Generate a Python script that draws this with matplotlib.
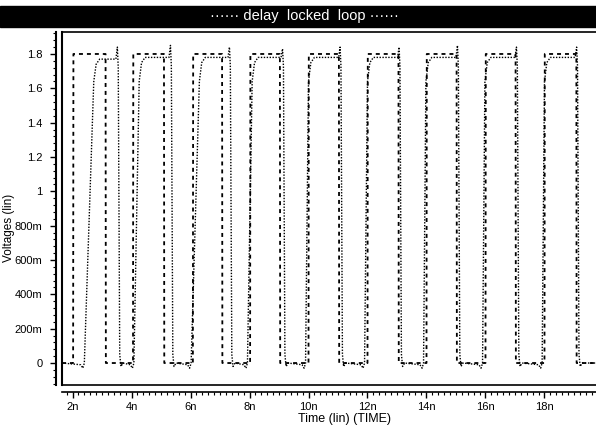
import numpy as np
import matplotlib
matplotlib.use('Agg')
import matplotlib.pyplot as plt
from matplotlib.patches import Rectangle
from matplotlib.ticker import MultipleLocator

plt.rcParams['font.family'] = ['Liberation Sans', 'DejaVu Sans']

# reference clock edges (ns), ideal square wave
ref_rise = [2.02, 4.05, 6.08, 8.02, 10.0, 12.0, 14.0, 16.0, 18.0]
ref_fall = [3.12, 5.10, 7.07, 9.03, 11.03, 13.05, 15.02, 17.02, 19.08]
ref_high = 1.8

# delayed clock out of the DLL: rise start, ramp time, fall
dll_rise = [2.40, 4.08, 6.02, 7.93, 9.90, 11.90, 13.90, 15.90, 17.92]
dll_ramp = [0.32, 0.18, 0.28, 0.16, 0.10, 0.10, 0.08, 0.08, 0.08]
dll_fall = [3.55, 5.35, 7.35, 9.15, 11.10, 13.10, 15.08, 17.08, 19.12]
dll_high = [1.77, 1.78, 1.78, 1.78, 1.78, 1.78, 1.78, 1.78, 1.78]
dll_peak = [1.84, 1.85, 1.84, 1.83, 1.84, 1.84, 1.85, 1.84, 1.84]

yticks = [0, 0.2, 0.4, 0.6, 0.8, 1.0, 1.2, 1.4, 1.6, 1.8]
ylabels = ['0', '200m', '400m', '600m', '800m', '1', '1.2', '1.4', '1.6', '1.8']
xticks = [2, 4, 6, 8, 10, 12, 14, 16, 18]
xlabels = ['2n', '4n', '6n', '8n', '10n', '12n', '14n', '16n', '18n']

t0, t1 = 1.643, 19.95

# build reference waveform
rt, rv = [t0], [0.0]
for r, f in zip(ref_rise, ref_fall):
    rt += [r, r + 0.01, f, f + 0.01]
    rv += [0.0, ref_high, ref_high, 0.0]
rt.append(t1)
rv.append(0.0)

# build delayed waveform
dt, dv = [t0], [0.0]
for r, a, f, h, p in zip(dll_rise, dll_ramp, dll_fall, dll_high, dll_peak):
    dt += [r - 0.12, r - 0.05, r, r + a, r + a + 0.08, r + a + 0.2,
           f - 0.08, f - 0.03, f, f + 0.05, f + 0.09, f + 0.16]
    dv += [-0.01, -0.03, 0.0, 1.64, h - 0.03, h,
           h, p, h - 0.05, 0.05, -0.02, 0.0]
dt.append(t1)
dv.append(0.0)

fig = plt.figure(figsize=(5.96, 4.30), dpi=100)
fig.patch.set_facecolor('white')

# title bar
fig.patches.append(Rectangle((0.0, 1 - 27 / 430), 1.0, 21 / 430,
                             transform=fig.transFigure, color='black', zorder=0))
fig.text(0.51, 1 - 16 / 430, '\u00b7\u00b7\u00b7\u00b7\u00b7\u00b7 delay  locked  loop \u00b7\u00b7\u00b7\u00b7\u00b7\u00b7',
         color='white', ha='center', va='center', fontsize=10.5)

ax = fig.add_axes([62 / 596, 45 / 430, 540 / 596, 353 / 430])
ax.plot(rt, rv, color='black', lw=1.3, ls=(0, (2.2, 2.2)))
ax.plot(dt, dv, color='black', lw=1.0, ls=(0, (1, 1.1)))

ax.set_xlim(t0, t1)
ax.set_ylim(-0.128, 1.928)

ax.xaxis.set_minor_locator(MultipleLocator(0.2))
ax.yaxis.set_minor_locator(MultipleLocator(0.04))
ax.tick_params(which='major', direction='out', length=4, width=1.0, labelsize=8)
ax.tick_params(which='minor', direction='out', length=2.5, width=0.8)
ax.tick_params(axis='y', which='major', pad=6)
ax.tick_params(axis='x', which='major', pad=3)

ax.set_yticks(yticks)
ax.set_yticklabels(ylabels, fontsize=8, fontweight='bold')
ax.set_xticks(xticks)
ax.set_xticklabels(xlabels, fontsize=8, fontweight='bold')

ax.spines['right'].set_visible(False)
ax.spines['left'].set_position(('outward', 4))
ax.spines['bottom'].set_position(('outward', 5))
ax.spines['left'].set_linewidth(1.5)
ax.spines['bottom'].set_linewidth(1.2)
ax.spines['top'].set_linewidth(1.2)

# inner frame lines
ax.axvline(t0, color='black', lw=1.5, clip_on=False)
ax.axhline(-0.128, color='black', lw=1.2, clip_on=False)

ax.set_ylabel('Voltages (lin)', fontsize=8.5)
ax.yaxis.set_label_coords(-47 / 540, (385 - 228) / 353)
ax.set_xlabel('Time (lin) (TIME)', fontsize=9)
ax.xaxis.set_label_coords((345 - 62) / 540, -28 / 353)

fig.savefig('out.png', dpi=100)
